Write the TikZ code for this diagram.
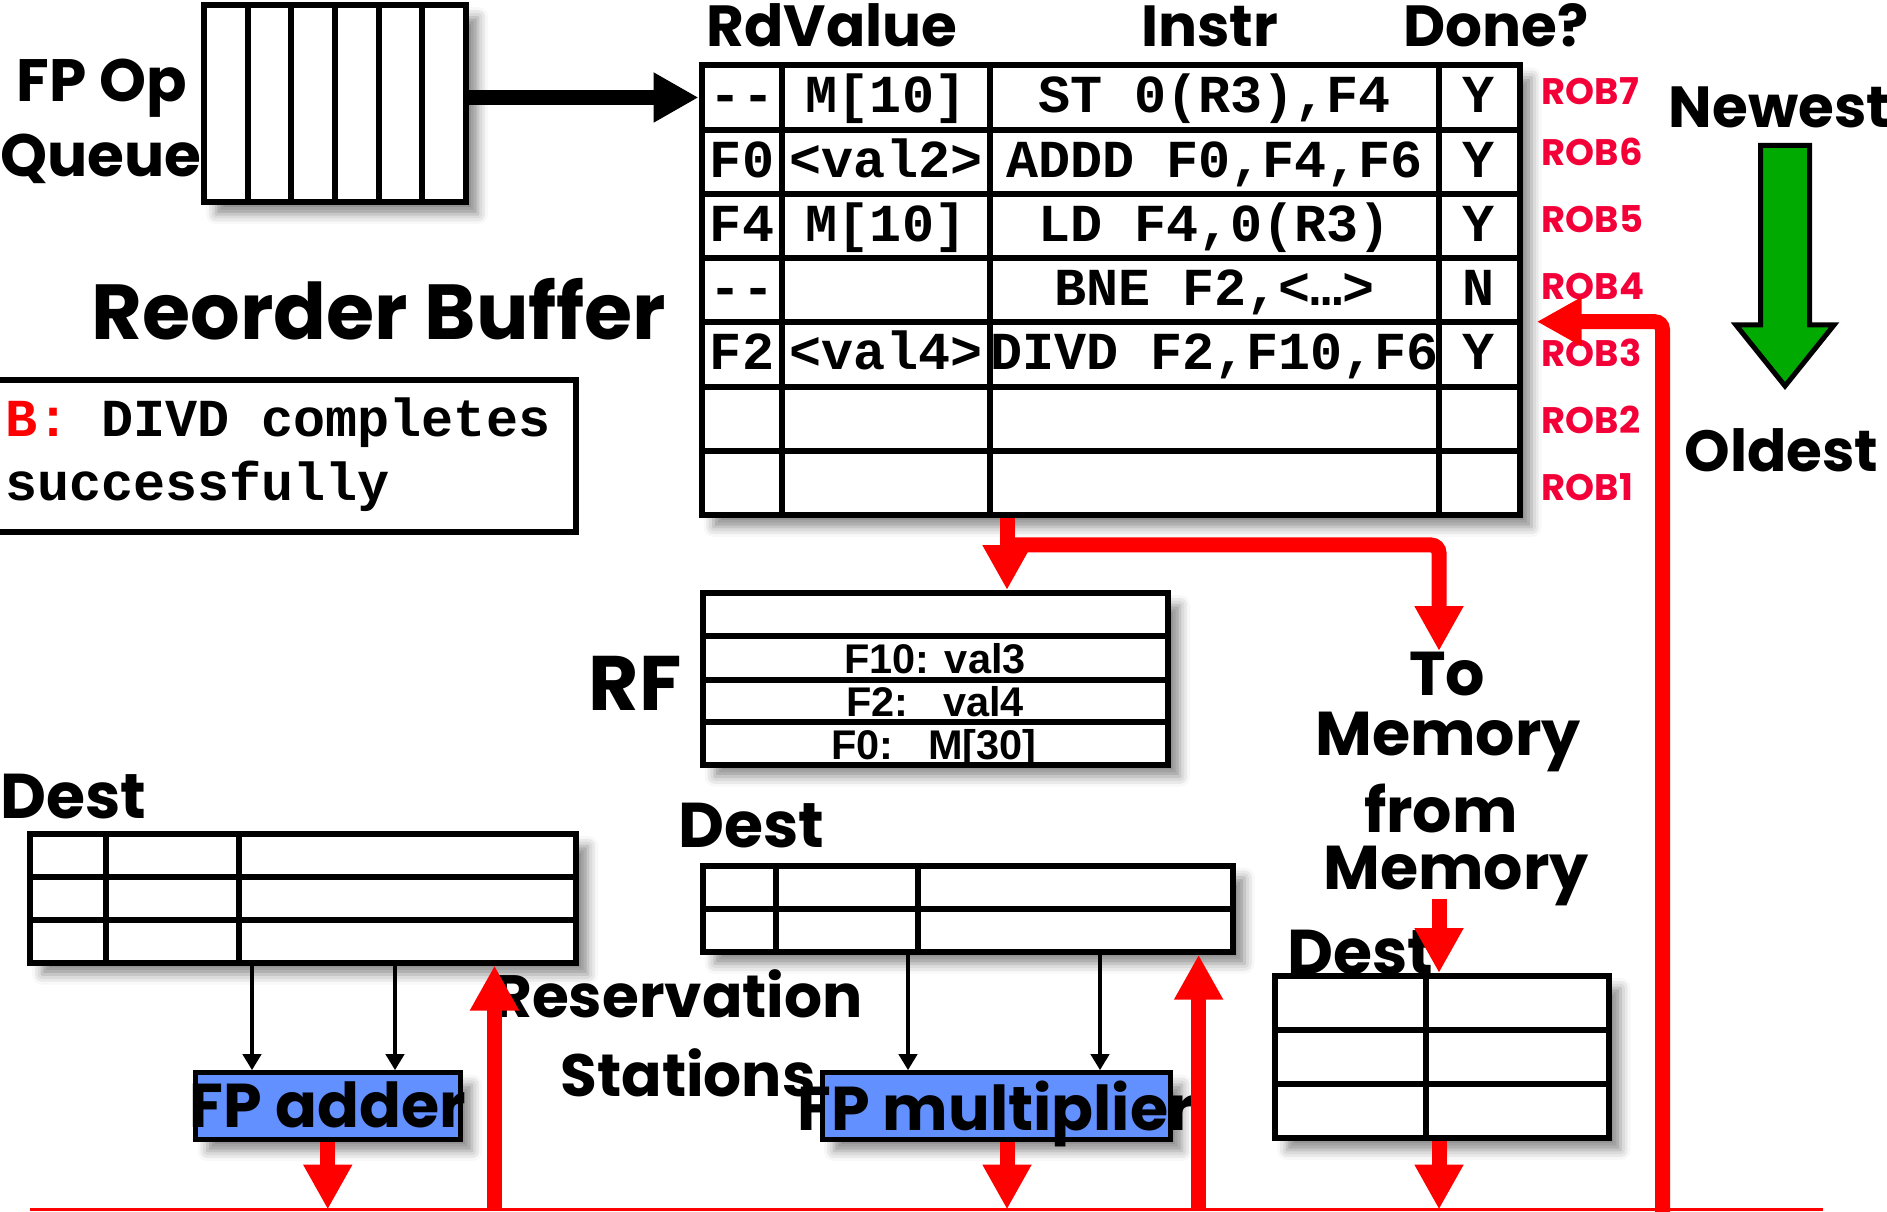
\documentclass[tikz,border=0pt]{standalone}
\usepackage{fontspec}
\setmainfont{Poppins}
\newfontfamily\codefont{Liberation Mono}
\newfontfamily\rffont{Liberation Sans}
\usetikzlibrary{arrows.meta,shadows.blur}

\definecolor{busred}{RGB}{255,0,0}
\definecolor{robred}{RGB}{242,0,55}
\definecolor{fublue}{RGB}{98,145,255}
\definecolor{agegreen}{RGB}{0,170,0}

\tikzset{
  every node/.style={inner sep=0pt},
  hand/.style={font=\fontsize{#1}{#1}\bfseries},
  tbl/.style={draw, line width=0.6mm, fill=white,
    blur shadow={shadow xshift=1.2mm, shadow yshift=-1.2mm,
      shadow blur radius=1mm, shadow opacity=45}},
  gridline/.style={line width=0.6mm},
  fu/.style={tbl, fill=fublue, line width=0.5mm},
  codecell/.style={font=\codefont\fontsize{15.2}{15.2}\bfseries,
    text height=3.9mm, text depth=0.8mm},
  codetext/.style={font=\codefont\fontsize{15.2}{15.2}\bfseries, anchor=base west},
  rftext/.style={font=\rffont\fontsize{11.8}{11.8}\bfseries, anchor=base},
  roblabel/.style={font=\fontsize{10.5}{10.5}\bfseries, text=robred, anchor=base west},
  feed/.style={line width=0.4mm, -{Triangle[width=1.8mm,length=1.6mm]}},
  issue/.style={line width=1.5mm, -{Triangle[width=4.7mm,length=4.5mm]}},
  bus/.style={busred, line width=1.5mm, -{Triangle[width=4.6mm,length=4.5mm]}},
  cdb/.style={busred, line width=0.3mm}
}

\begin{document}
\begin{tikzpicture}[x=0.1mm, y=-0.1mm]
    \useasboundingbox (0,0) rectangle (1887,1212);

    % FP op queue
    \node[tbl, minimum width=26.2mm, minimum height=19.7mm] (queue) at (335,103.7) {};
    \foreach \x in {247.7,291.3,335,378.7,422.3}
        \draw[gridline] (\x,0 |- queue.north) -- (\x,0 |- queue.south);
    \node[hand=17, anchor=base] (fpop) at (102,102) {FP Op};
    \node[hand=17, anchor=base] (queuelbl) at (101,177) {Queue};

    % Reorder buffer
    \node[tbl, minimum width=81.8mm, minimum height=44.96mm] (rob) at (1110.5,290.2) {};
    \foreach \y in {129.6,193.9,258.1,322.3,386.6,450.8}
        \draw[gridline] (rob.west |- 0,\y) -- (rob.east |- 0,\y);
    \foreach \x in {782,990,1439}
        \draw[gridline] (\x,0 |- rob.north) -- (\x,0 |- rob.south);
    \node[hand=16.5, anchor=base] (hdval) at (832,46.5) {RdValue};
    \node[hand=16.5, anchor=base] (hdins) at (1209.5,46.5) {Instr};
    \node[hand=16.5, anchor=base] (hddone) at (1496,47) {Done?};
    \foreach \n/\y/\d/\v/\i/\f in {
        7/97.5/{-{}-}/{M[10]}/{ST 0(R3),F4}/Y,
        6/161.8/F0/{<val2>}/{ADDD F0,F4,F6}/Y,
        5/226/F4/{M[10]}/{LD F4,0(R3)}/Y,
        4/290.2/{-{}-}/{}/{BNE F2,<…>}/N,
        3/354.5/F2/{<val4>}/{DIVD F2,F10,F6}/Y}
    {
        \node[codecell] (dst\n) at (742,\y) {\d};
        \node[codecell] (val\n) at (886,\y) {\v};
        \node[codecell] (ins\n) at (1214.5,\y) {\i};
        \node[codecell] (don\n) at (1479,\y) {\f};
    }
    \foreach \n/\y in {7/105,6/166,5/232.5,4/299.5,3/366.5,2/434,1/501}
        \node[roblabel] (robid\n) at (1541,\y) {ROB\n};
    \node[hand=22.2, anchor=base] (roblbl) at (379,340) {Reorder Buffer};

    % Note
    \node[draw, line width=0.6mm, minimum width=58.6mm, minimum height=15.2mm] (note) at (283,456) {};
    \node[codetext] (notetop) at (4.5,437) {\textcolor{busred}{B:} DIVD completes};
    \node[codetext] (notebot) at (4.5,500) {successfully};

    % Age arrow
    \node[hand=16.5, anchor=base west] (newest) at (1668,128) {Newest};
    \node[hand=16.5, anchor=base west] (oldest) at (1684,472) {Oldest};
    \draw[fill=agegreen, line width=0.5mm] (1760.5,145.5) -- (1809.5,145.5) -- (1809.5,325)
        -- (1834,325) -- (1785,386) -- (1736,325) -- (1760.5,325) -- cycle;

    % Register file
    \node[hand=22, anchor=base west] (rflbl) at (588,710) {RF};
    \node[tbl, minimum width=46.53mm, minimum height=17.16mm] (rf) at (935.35,678.8) {};
    \foreach \y in {636,680,722}
        \draw[gridline] (rf.west |- 0,\y) -- (rf.east |- 0,\y);
    \node[rftext] (rf10) at (935,673) {F10: val3};
    \node[rftext] (rf2) at (935,716) {F2:\ \ \ val4};
    \node[rftext] (rf0) at (934,759) {F0:\ \ \ M[30]};

    % Reservation stations
    \node[hand=18, anchor=base west] (destadd) at (0,818) {Dest};
    \node[tbl, minimum width=54.6mm, minimum height=12.85mm] (rsadd) at (303,898.25) {};
    \foreach \y in {876.8,919.7}
        \draw[gridline] (rsadd.west |- 0,\y) -- (rsadd.east |- 0,\y);
    \foreach \x in {106,239}
        \draw[gridline] (\x,0 |- rsadd.north) -- (\x,0 |- rsadd.south);
    \node[hand=18, anchor=base west] (destmul) at (678,847) {Dest};
    \node[tbl, minimum width=52.99mm, minimum height=8.61mm] (rsmul) at (967.65,908.65) {};
    \draw[gridline] (rsmul.west) -- (rsmul.east);
    \foreach \x in {776,918}
        \draw[gridline] (\x,0 |- rsmul.north) -- (\x,0 |- rsmul.south);
    \node[hand=18, anchor=base west] (destmem) at (1287,974) {Dest};
    \node[tbl, minimum width=33.35mm, minimum height=16.2mm] (rsmem) at (1441.75,1057) {};
    \foreach \y in {1030,1084}
        \draw[gridline] (rsmem.west |- 0,\y) -- (rsmem.east |- 0,\y);
    \draw[gridline] (1426,0 |- rsmem.north) -- (1426,0 |- rsmem.south);
    \node[hand=17, anchor=base] (resv1) at (678,1017) {Reservation};
    \node[hand=17, anchor=base] (resv2) at (688,1096) {Stations};

    % Functional units
    \node[fu, minimum width=26.45mm, minimum height=6.63mm] (adder) at (327.75,1105.85) {};
    \node[hand=17.6, anchor=base] (addertxt) at (328,1127.5) {FP adder};
    \node[fu, minimum width=34.8mm, minimum height=6.63mm] (mult) at (996,1105.85) {};
    \node[hand=17.6, anchor=base] (multtxt) at (996,1130) {FP multiplier};

    % Memory labels
    \node[hand=17.6, anchor=base] (tomem1) at (1447,695) {To};
    \node[hand=17.6, anchor=base] (tomem2) at (1448,755) {Memory};
    \node[hand=17.6, anchor=base] (frommem1) at (1441,832) {from};
    \node[hand=17.6, anchor=base] (frommem2) at (1456,889) {Memory};

    % Issue and operand feeds
    \draw[issue] (queue.east |- dst7) -- (rob.west |- dst7);
    \foreach \x in {252,395}
        \draw[feed] (\x,0 |- rsadd.south) -- (\x,0 |- adder.north);
    \foreach \x in {908,1100}
        \draw[feed] (\x,0 |- rsmul.south) -- (\x,0 |- mult.north);

    % Commit paths
    \coordinate (robtap) at (1007,545);
    \coordinate (memin) at (1439,651);
    \coordinate (memout) at (1439,899);
    \draw[bus] (1007,0 |- rob.south) -- (1007,0 |- rf.north);
    \draw[bus, rounded corners=0.8mm] (robtap) -| (memin);
    \draw[bus] (memout) -- (1439,0 |- rsmem.north);

    % Common data bus
    \coordinate (cdbL) at (30,1209.5);
    \coordinate (cdbR) at (1823,1209.5);
    \coordinate (cdbtap) at (1662.5,1212);
    \coordinate (robin) at (1536.7,321.7);
    \draw[cdb] (cdbL) -- (cdbR);
    \draw[bus] (adder.south) -- (adder.south |- cdbL);
    \draw[bus] (1007,0 |- mult.south) -- (1007,0 |- cdbL);
    \draw[bus] (1439,0 |- rsmem.south) -- (1439,0 |- cdbL);
    \draw[bus] (494.5,0 |- cdbL) -- (494.5,0 |- rsadd.south);
    \draw[bus] (1198.6,0 |- cdbL) -- (1198.6,0 |- rsmul.south);
    \draw[bus, rounded corners=0.8mm] (cdbtap) |- (robin);
\end{tikzpicture}
\end{document}
